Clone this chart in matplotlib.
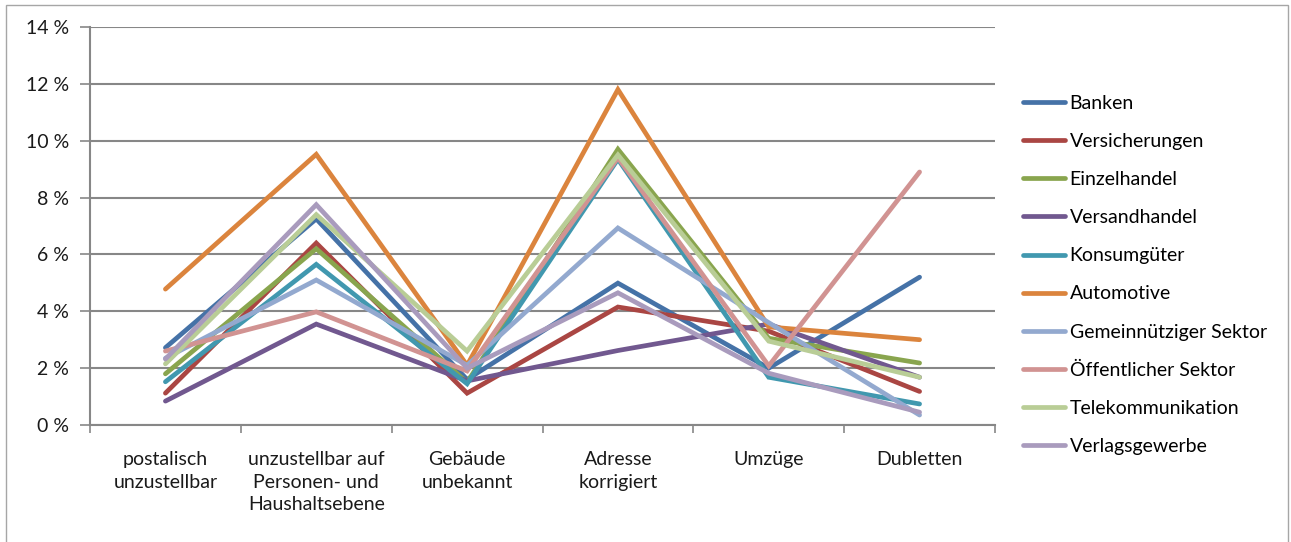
import matplotlib
matplotlib.use("Agg")
import matplotlib.pyplot as plt
from matplotlib.patches import Rectangle
import numpy as np

plt.rcParams['font.family'] = ['Lato', 'DejaVu Sans']

categories = [
    "postalisch\nunzustellbar",
    "unzustellbar auf\nPersonen- und\nHaushaltsebene",
    "Gebäude\nunbekannt",
    "Adresse\nkorrigiert",
    "Umzüge",
    "Dubletten",
]

banken = [2.72, 7.25, 1.60, 4.99, 2.00, 5.20]
versicherungen = [1.12, 6.40, 1.12, 4.15, 3.30, 1.18]
einzelhandel = [1.80, 6.20, 1.50, 9.70, 3.05, 2.18]
versandhandel = [0.84, 3.55, 1.55, 2.62, 3.55, 1.68]
konsumgueter = [1.52, 5.65, 1.45, 9.35, 1.68, 0.74]
automotive = [4.78, 9.52, 2.10, 11.80, 3.45, 3.00]
gemeinnuetzig = [2.35, 5.10, 2.10, 6.93, 3.60, 0.35]
oeffentlich = [2.60, 3.98, 1.90, 9.40, 2.08, 8.90]
telekom = [2.15, 7.40, 2.60, 9.50, 2.95, 1.68]
verlag = [2.32, 7.75, 2.00, 4.65, 1.82, 0.45]

series = [
    ("Banken", banken, "#4572A7"),
    ("Versicherungen", versicherungen, "#AA4643"),
    ("Einzelhandel", einzelhandel, "#89A54E"),
    ("Versandhandel", versandhandel, "#71588F"),
    ("Konsumgüter", konsumgueter, "#4198AF"),
    ("Automotive", automotive, "#DB843D"),
    ("Gemeinnütziger Sektor", gemeinnuetzig, "#93A9CF"),
    ("Öffentlicher Sektor", oeffentlich, "#D19392"),
    ("Telekommunikation", telekom, "#B9CD96"),
    ("Verlagsgewerbe", verlag, "#A99BBD"),
]

yticks = [0, 2, 4, 6, 8, 10, 12, 14]
ytick_labels = [f"{v} %" for v in yticks]

FS = 14
W, H = 1291, 542
fig = plt.figure(figsize=(W / 100, H / 100), dpi=100)
ax = fig.add_axes([90 / W, 1 - 425 / H, 905 / W, 398 / H])

x = np.arange(len(categories)) + 0.5
for name, vals, color in series:
    ax.plot(x, vals, color=color, lw=3.4, label=name,
            solid_capstyle="round", solid_joinstyle="miter")

grid_c = "#878787"
ax.set_xlim(0, len(categories))
ax.set_ylim(0, 14)
ax.set_yticks(yticks)
ax.set_yticklabels(ytick_labels, fontsize=FS, color="#1a1a1a")
ax.yaxis.grid(True, color=grid_c, lw=1.5)
ax.set_axisbelow(True)

ax.set_xticks(x)
ax.set_xticklabels(categories, fontsize=FS, color="#1a1a1a", linespacing=1.38)
ax.set_xticks(np.arange(len(categories) + 1), minor=True)
ax.tick_params(axis="x", which="major", length=0, pad=19)
ax.tick_params(axis="x", which="minor", length=6, width=1.2, color=grid_c, direction="out")
ax.tick_params(axis="y", length=7, width=1.2, color=grid_c, pad=8)

for side in ["top", "right"]:
    ax.spines[side].set_visible(False)
for side in ["left", "bottom"]:
    ax.spines[side].set_color(grid_c)
    ax.spines[side].set_linewidth(1.5)

ax.legend(loc="upper left", bbox_to_anchor=(1023 / W, 1 - 95 / H),
          bbox_transform=fig.transFigure, frameon=False, fontsize=FS,
          handlelength=2.15, handletextpad=0.25, labelspacing=1.085,
          borderaxespad=0, borderpad=0)

fig.patches.append(Rectangle((6 / W, -0.05), 1282 / W, 1 - 5 / H + 0.05,
                             transform=fig.transFigure, fill=False,
                             edgecolor="#A6A6A6", lw=1.0))

fig.savefig("out.png", dpi=100, facecolor="white")
